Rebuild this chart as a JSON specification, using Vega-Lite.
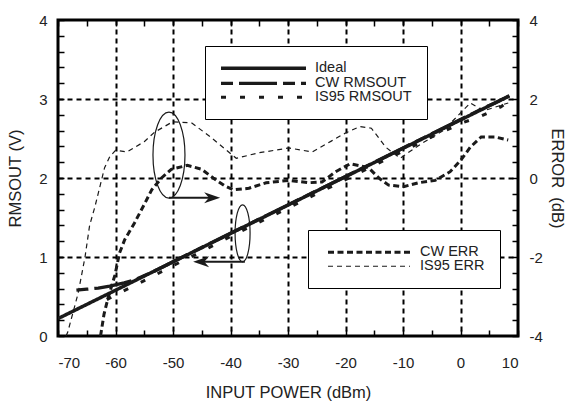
{
  "$schema": "https://vega.github.io/schema/vega-lite/v6.json",
  "width": 460,
  "height": 316,
  "autosize": {"type": "none"},
  "padding": {"left": 58, "top": 20, "right": 50, "bottom": 68},
  "background": "white",
  "config": {
    "font": "Liberation Sans",
    "view": {"stroke": "black", "strokeWidth": 3},
    "axis": {
      "labelFont": "Liberation Sans", "titleFont": "Liberation Sans",
      "labelColor": "#222", "titleColor": "#222",
      "labelFontSize": 15, "titleFontSize": 16.5, "titleFontWeight": "normal",
      "tickColor": "black", "tickWidth": 1.5, "tickSize": -6,
      "domain": false, "grid": false
    },
    "legend": {"labelFont": "Liberation Sans", "labelColor": "#222"}
  },
  "datasets": {
    "rms": [
      {"series": "CW RMSOUT", "x": -66.8, "v": 0.58},
      {"series": "CW RMSOUT", "x": -65, "v": 0.592},
      {"series": "CW RMSOUT", "x": -63, "v": 0.607},
      {"series": "CW RMSOUT", "x": -61, "v": 0.632},
      {"series": "CW RMSOUT", "x": -58.5, "v": 0.672},
      {"series": "CW RMSOUT", "x": -56.5, "v": 0.715},
      {"series": "CW RMSOUT", "x": -53, "v": 0.83},
      {"series": "CW RMSOUT", "x": -50, "v": 0.94},
      {"series": "CW RMSOUT", "x": -45, "v": 1.12},
      {"series": "CW RMSOUT", "x": -40, "v": 1.30},
      {"series": "CW RMSOUT", "x": -35, "v": 1.48},
      {"series": "CW RMSOUT", "x": -30, "v": 1.66},
      {"series": "CW RMSOUT", "x": -25, "v": 1.84},
      {"series": "CW RMSOUT", "x": -20, "v": 2.02},
      {"series": "CW RMSOUT", "x": -15, "v": 2.2},
      {"series": "CW RMSOUT", "x": -10, "v": 2.38},
      {"series": "CW RMSOUT", "x": -5, "v": 2.56},
      {"series": "CW RMSOUT", "x": 0, "v": 2.74},
      {"series": "CW RMSOUT", "x": 3, "v": 2.85},
      {"series": "CW RMSOUT", "x": 6, "v": 2.95},
      {"series": "CW RMSOUT", "x": 8.5, "v": 3.04},
      {"series": "Ideal", "x": -70, "v": 0.22},
      {"series": "Ideal", "x": 8.5, "v": 3.04},
      {"series": "IS95 RMSOUT", "x": -61.5, "v": 0.46},
      {"series": "IS95 RMSOUT", "x": -60, "v": 0.52},
      {"series": "IS95 RMSOUT", "x": -55, "v": 0.70},
      {"series": "IS95 RMSOUT", "x": -50, "v": 0.89},
      {"series": "IS95 RMSOUT", "x": -45, "v": 1.07},
      {"series": "IS95 RMSOUT", "x": -40, "v": 1.26},
      {"series": "IS95 RMSOUT", "x": -35, "v": 1.44},
      {"series": "IS95 RMSOUT", "x": -30, "v": 1.62},
      {"series": "IS95 RMSOUT", "x": -25, "v": 1.80},
      {"series": "IS95 RMSOUT", "x": -20, "v": 1.98},
      {"series": "IS95 RMSOUT", "x": -15, "v": 2.16},
      {"series": "IS95 RMSOUT", "x": -10, "v": 2.34},
      {"series": "IS95 RMSOUT", "x": -5, "v": 2.52},
      {"series": "IS95 RMSOUT", "x": 0, "v": 2.69},
      {"series": "IS95 RMSOUT", "x": 3.5, "v": 2.78},
      {"series": "IS95 RMSOUT", "x": 7, "v": 2.9},
      {"series": "IS95 RMSOUT", "x": 8.5, "v": 2.98}
    ],
    "err": [
      {"series": "CW ERR", "x": -62.6, "e": -4},
      {"series": "CW ERR", "x": -62, "e": -3.45},
      {"series": "CW ERR", "x": -61.3, "e": -3.04},
      {"series": "CW ERR", "x": -60.1, "e": -2.46},
      {"series": "CW ERR", "x": -59.3, "e": -1.9},
      {"series": "CW ERR", "x": -58.4, "e": -1.56},
      {"series": "CW ERR", "x": -56.7, "e": -1.14},
      {"series": "CW ERR", "x": -54.9, "e": -0.64},
      {"series": "CW ERR", "x": -53.7, "e": -0.3},
      {"series": "CW ERR", "x": -52, "e": 0},
      {"series": "CW ERR", "x": -50.3, "e": 0.22},
      {"series": "CW ERR", "x": -47.5, "e": 0.32},
      {"series": "CW ERR", "x": -45, "e": 0.22},
      {"series": "CW ERR", "x": -43, "e": 0},
      {"series": "CW ERR", "x": -41, "e": -0.2},
      {"series": "CW ERR", "x": -39.5, "e": -0.3},
      {"series": "CW ERR", "x": -36.8, "e": -0.26},
      {"series": "CW ERR", "x": -33.8, "e": -0.12},
      {"series": "CW ERR", "x": -29.8, "e": -0.06},
      {"series": "CW ERR", "x": -26.4, "e": -0.12},
      {"series": "CW ERR", "x": -24.1, "e": -0.1},
      {"series": "CW ERR", "x": -21.7, "e": 0.16},
      {"series": "CW ERR", "x": -19.2, "e": 0.36},
      {"series": "CW ERR", "x": -16, "e": 0.26},
      {"series": "CW ERR", "x": -14.2, "e": 0},
      {"series": "CW ERR", "x": -12.5, "e": -0.18},
      {"series": "CW ERR", "x": -9.9, "e": -0.22},
      {"series": "CW ERR", "x": -7.3, "e": -0.12},
      {"series": "CW ERR", "x": -4.4, "e": -0.06},
      {"series": "CW ERR", "x": -1.8, "e": 0.16},
      {"series": "CW ERR", "x": 0.1, "e": 0.46},
      {"series": "CW ERR", "x": 1.7, "e": 0.78},
      {"series": "CW ERR", "x": 3.6, "e": 1.04},
      {"series": "CW ERR", "x": 6, "e": 1.04},
      {"series": "CW ERR", "x": 8.3, "e": 0.96},
      {"series": "IS95 ERR", "x": -68.6, "e": -4},
      {"series": "IS95 ERR", "x": -68.3, "e": -3.9},
      {"series": "IS95 ERR", "x": -66.5, "e": -2.92},
      {"series": "IS95 ERR", "x": -65.3, "e": -2},
      {"series": "IS95 ERR", "x": -64.5, "e": -1.2},
      {"series": "IS95 ERR", "x": -63.6, "e": -0.74},
      {"series": "IS95 ERR", "x": -61.9, "e": 0.26},
      {"series": "IS95 ERR", "x": -61, "e": 0.54},
      {"series": "IS95 ERR", "x": -60, "e": 0.7},
      {"series": "IS95 ERR", "x": -58, "e": 0.66},
      {"series": "IS95 ERR", "x": -55, "e": 0.92},
      {"series": "IS95 ERR", "x": -53.2, "e": 1.16},
      {"series": "IS95 ERR", "x": -50.1, "e": 1.42},
      {"series": "IS95 ERR", "x": -46.8, "e": 1.4},
      {"series": "IS95 ERR", "x": -43.5, "e": 1.04},
      {"series": "IS95 ERR", "x": -39, "e": 0.5},
      {"series": "IS95 ERR", "x": -35, "e": 0.64},
      {"series": "IS95 ERR", "x": -29.8, "e": 0.76},
      {"series": "IS95 ERR", "x": -25.8, "e": 0.66},
      {"series": "IS95 ERR", "x": -22.4, "e": 0.94},
      {"series": "IS95 ERR", "x": -20, "e": 1.14},
      {"series": "IS95 ERR", "x": -17.5, "e": 1.3},
      {"series": "IS95 ERR", "x": -15.5, "e": 1.26},
      {"series": "IS95 ERR", "x": -13, "e": 0.78},
      {"series": "IS95 ERR", "x": -10.5, "e": 0.5},
      {"series": "IS95 ERR", "x": -7, "e": 0.85},
      {"series": "IS95 ERR", "x": -3, "e": 1.2},
      {"series": "IS95 ERR", "x": 0.1, "e": 1.66},
      {"series": "IS95 ERR", "x": 1.7, "e": 1.9},
      {"series": "IS95 ERR", "x": 4, "e": 1.7},
      {"series": "IS95 ERR", "x": 8.3, "e": 1.9}
    ],
    "ellipseErr": [{"x": -50.7, "v": 2.29}],
    "ellipseRms": [{"x": -37.9, "v": 1.30}],
    "shafts": [
      {"x": -50.7, "x2": -43.5, "v": 1.75},
      {"x": -37.5, "x2": -45, "v": 0.94}
    ],
    "headRight": [{"x": -41.8, "v": 1.75}],
    "headLeft": [{"x": -46.5, "v": 0.94}]
  },
  "layer": [
    {
      "encoding": {
        "x": {
          "field": "x", "type": "quantitative",
          "scale": {"domain": [-70, 10], "nice": false, "zero": false},
          "title": "INPUT POWER (dBm)",
          "axis": {
            "orient": "bottom",
            "values": [-70,-65,-60,-55,-50,-45,-40,-35,-30,-25,-20,-15,-10,-5,0,5,10],
            "labelExpr": "datum.value % 10 === 0 ? '' + datum.value : ''",
            "labelPadding": 25,
            "titlePadding": 14,
            "grid": true, "gridColor": "black", "gridDash": [5, 4], "gridWidth": 2,
            "gridOpacity": {"condition": {"test": "datum.value % 10 === 0 && datum.value > -70 && datum.value < 10", "value": 1}, "value": 0}
          }
        },
        "y": {
          "field": "v", "type": "quantitative",
          "scale": {"domain": [0, 4], "nice": false, "zero": false},
          "title": "RMSOUT (V)",
          "axis": {
            "orient": "left",
            "values": [0,0.2,0.4,0.6,0.8,1,1.2,1.4,1.6,1.8,2,2.2,2.4,2.6,2.8,3,3.2,3.4,3.6,3.8,4],
            "labelExpr": "datum.value % 1 === 0 ? '' + datum.value : ''",
            "labelPadding": 17,
            "titlePadding": 15,
            "grid": true, "gridColor": "black", "gridDash": [5, 4], "gridWidth": 2,
            "gridOpacity": {"condition": {"test": "datum.value === 1 || datum.value === 2 || datum.value === 3", "value": 1}, "value": 0}
          }
        }
      },
      "layer": [
        {
          "data": {"name": "rms"},
          "mark": {"type": "line", "color": "#1a1a1a", "clip": true},
          "encoding": {
            "strokeDash": {
              "field": "series", "type": "nominal",
              "scale": {"domain": ["Ideal", "CW RMSOUT", "IS95 RMSOUT"], "range": [[1, 0], [12, 6, 38, 6], [5, 14]]},
              "legend": {
                "orient": "none", "legendX": 147, "legendY": 26, "title": null,
                "padding": 15, "rowPadding": -2, "symbolSize": 100, "labelOffset": 80.5,
                "symbolType": "M-1.25,0L15.75,0",
                "labelFontSize": 14.5, "fillColor": "white", "strokeColor": "black",
                "encode": {
                  "legend": {"update": {"strokeWidth": {"value": 2}}},
                  "symbols": {"update": {"fill": {"value": "transparent"}, "stroke": {"value": "#1a1a1a"}, "opacity": {"value": 1}}}
                }
              }
            },
            "strokeWidth": {
              "field": "series", "type": "nominal",
              "scale": {"domain": ["Ideal", "CW RMSOUT", "IS95 RMSOUT"], "range": [3.5, 3, 3.5]},
              "legend": {
                "orient": "none", "legendX": 147, "legendY": 26, "title": null,
                "padding": 15, "rowPadding": -2, "symbolSize": 100, "labelOffset": 80.5,
                "symbolType": "M-1.25,0L15.75,0",
                "labelFontSize": 14.5, "fillColor": "white", "strokeColor": "black",
                "encode": {
                  "legend": {"update": {"strokeWidth": {"value": 2}}},
                  "symbols": {"update": {"fill": {"value": "transparent"}, "stroke": {"value": "#1a1a1a"}, "opacity": {"value": 1}}}
                }
              }
            }
          }
        },
        {
          "data": {"name": "ellipseErr"},
          "mark": {"type": "point", "shape": "M0,-1C0.2055,-1 0.372,-0.5523 0.372,0C0.372,0.5523 0.2055,1 0,1C-0.2055,1 -0.372,0.5523 -0.372,0C-0.372,-0.5523 -0.2055,-1 0,-1Z", "size": 7396, "filled": false, "stroke": "#1a1a1a", "strokeWidth": 1.2, "opacity": 1}
        },
        {
          "data": {"name": "ellipseRms"},
          "mark": {"type": "point", "shape": "M0,-1C0.1453,-1 0.263,-0.5523 0.263,0C0.263,0.5523 0.1453,1 0,1C-0.1453,1 -0.263,0.5523 -0.263,0C-0.263,-0.5523 -0.1453,-1 0,-1Z", "size": 3249, "filled": false, "stroke": "#1a1a1a", "strokeWidth": 1.2, "opacity": 1}
        },
        {
          "data": {"name": "shafts"},
          "mark": {"type": "rule", "color": "#1a1a1a", "strokeWidth": 1.8},
          "encoding": {"x2": {"field": "x2"}}
        },
        {
          "data": {"name": "headRight"},
          "mark": {"type": "point", "shape": "M0,0L-2,-0.7L-1.4,0L-2,0.7Z", "size": 256, "filled": true, "color": "#1a1a1a", "opacity": 1, "angle": 0}
        },
        {
          "data": {"name": "headLeft"},
          "mark": {"type": "point", "shape": "M0,0L-2,-0.7L-1.4,0L-2,0.7Z", "size": 256, "filled": true, "color": "#1a1a1a", "opacity": 1, "angle": 180}
        }
      ]
    },
    {
      "data": {"name": "err"},
      "mark": {"type": "line", "color": "#1a1a1a", "clip": true},
      "encoding": {
        "x": {
          "field": "x", "type": "quantitative",
          "scale": {"domain": [-70, 10], "nice": false, "zero": false},
          "axis": {
            "orient": "top", "title": null, "labels": false, "grid": false,
            "values": [-70,-65,-60,-55,-50,-45,-40,-35,-30,-25,-20,-15,-10,-5,0,5,10]
          }
        },
        "y": {
          "field": "e", "type": "quantitative",
          "scale": {"domain": [-4, 4], "nice": false, "zero": false},
          "title": "ERROR\u00a0\u00a0(dB)",
          "axis": {
            "orient": "right",
            "values": [-4,-3.6,-3.2,-2.8,-2.4,-2,-1.6,-1.2,-0.8,-0.4,0,0.4,0.8,1.2,1.6,2,2.4,2.8,3.2,3.6,4],
            "labelExpr": "datum.value % 2 === 0 ? '' + datum.value : ''",
            "labelPadding": 17,
            "titlePadding": 6,
            "grid": false
          }
        },
        "strokeDash": {
          "field": "series", "type": "nominal",
          "scale": {"domain": ["CW ERR", "IS95 ERR"], "range": [[6, 3.5], [5, 4]]},
          "legend": {
            "orient": "none", "legendX": 250, "legendY": 210, "title": null,
            "padding": 15, "rowPadding": -4, "symbolSize": 100, "labelOffset": 82.5,
            "symbolType": "M-0.45,0L15.95,0",
            "labelFontSize": 14.5, "fillColor": "white", "strokeColor": "black",
            "labelExpr": "datum.label + '\u2003\u2003'",
            "encode": {
              "legend": {"update": {"strokeWidth": {"value": 2}}},
              "symbols": {"update": {"fill": {"value": "transparent"}, "stroke": {"value": "#1a1a1a"}, "opacity": {"value": 1}}}
            }
          }
        },
        "strokeWidth": {
          "field": "series", "type": "nominal",
          "scale": {"domain": ["CW ERR", "IS95 ERR"], "range": [3, 1.2]},
          "legend": {
            "orient": "none", "legendX": 250, "legendY": 210, "title": null,
            "padding": 15, "rowPadding": -4, "symbolSize": 100, "labelOffset": 82.5,
            "symbolType": "M-0.45,0L15.95,0",
            "labelFontSize": 14.5, "fillColor": "white", "strokeColor": "black",
            "labelExpr": "datum.label + '\u2003\u2003'",
            "encode": {
              "legend": {"update": {"strokeWidth": {"value": 2}}},
              "symbols": {"update": {"fill": {"value": "transparent"}, "stroke": {"value": "#1a1a1a"}, "opacity": {"value": 1}}}
            }
          }
        }
      }
    }
  ],
  "resolve": {
    "scale": {"y": "independent", "strokeDash": "independent", "strokeWidth": "independent"},
    "axis": {"x": "independent"}
  }
}
